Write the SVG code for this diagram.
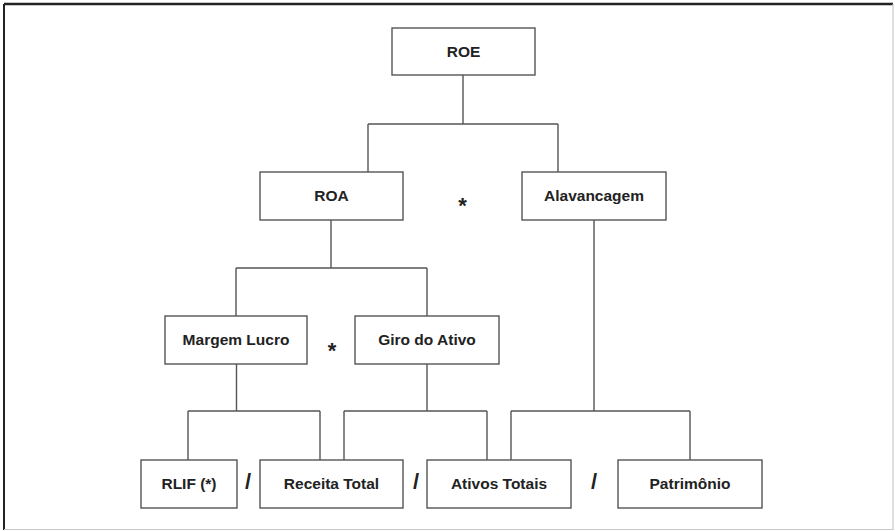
<svg xmlns="http://www.w3.org/2000/svg" width="895" height="531" viewBox="0 0 895 531">
<style>
.box{fill:#fff;stroke:#555;stroke-width:1.4}
.lbl{font-family:"Liberation Sans",Arial,sans-serif;font-weight:bold;font-size:15.5px;fill:#222;text-anchor:middle}
.op{font-family:"Liberation Sans",Arial,sans-serif;font-weight:bold;font-size:22px;fill:#222;text-anchor:middle}
.conn{fill:none;stroke:#555;stroke-width:1.4}
</style>
<rect x="0" y="0" width="895" height="531" fill="#fff"/>
<line x1="4" y1="4" x2="893" y2="4" stroke="#222" stroke-width="2.5"/>
<line x1="4" y1="4" x2="4" y2="530" stroke="#222" stroke-width="2"/>
<line x1="893" y1="4" x2="893" y2="530" stroke="#c8c8c8" stroke-width="1.2"/>
<line x1="4" y1="529.5" x2="893" y2="529.5" stroke="#c8c8c8" stroke-width="1.2"/>
<g id="connectors">
<path class="conn" d="M463 75V124M368 124H558M368 124V172M558 124V172"/>
<path class="conn" d="M331 220V268M236 268H427M236 268V316M427 268V316"/>
<path class="conn" d="M236.5 364V411M188 411H320M188 411V460M320 411V460"/>
<path class="conn" d="M427 364V411M344 411H487M344 411V460M487 411V460"/>
<path class="conn" d="M594 220V411M511 411H690M511 411V460M690 411V460"/>
</g>
<g id="roe"><rect class="box" x="392" y="28" width="143" height="47"/><text class="lbl" x="463.5" y="57">ROE</text></g>
<g id="roa"><rect class="box" x="260" y="172" width="143" height="48"/><text class="lbl" x="331.5" y="201">ROA</text></g>
<g id="alavancagem"><rect class="box" x="522" y="172" width="144" height="48"/><text class="lbl" x="594" y="201">Alavancagem</text></g>
<g id="margem"><rect class="box" x="165" y="316" width="142" height="48"/><text class="lbl" x="236" y="345">Margem Lucro</text></g>
<g id="giro"><rect class="box" x="355" y="316" width="144" height="48"/><text class="lbl" x="427" y="345">Giro do Ativo</text></g>
<g id="rlif"><rect class="box" x="141" y="460" width="96" height="48"/><text class="lbl" x="189" y="489">RLIF (*)</text></g>
<g id="receita"><rect class="box" x="260" y="460" width="143" height="48"/><text class="lbl" x="331.5" y="489">Receita Total</text></g>
<g id="ativos"><rect class="box" x="427" y="460" width="144" height="48"/><text class="lbl" x="499" y="489">Ativos Totais</text></g>
<g id="patrimonio"><rect class="box" x="618" y="460" width="144" height="48"/><text class="lbl" x="690" y="489">Patrimônio</text></g>
<g id="operators">
<text class="op" x="462.5" y="213">*</text>
<text class="op" x="332" y="358">*</text>
<text class="op" x="248" y="489" font-size="26">/</text>
<text class="op" x="416" y="489" font-size="26">/</text>
<text class="op" x="594" y="489" font-size="26">/</text>
</g>
</svg>
